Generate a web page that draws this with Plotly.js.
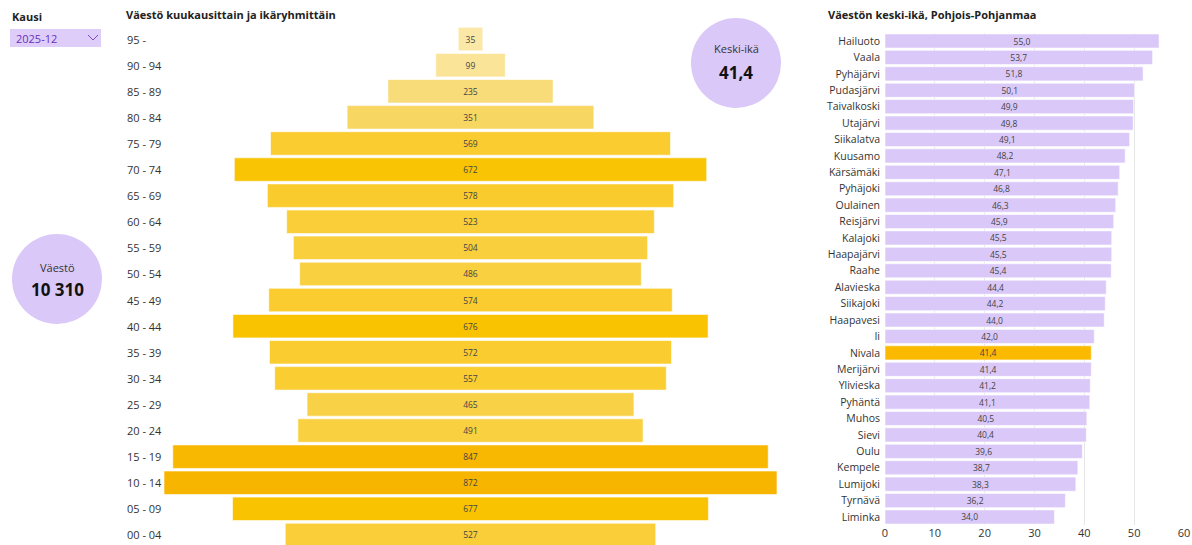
<!DOCTYPE html>
<html>
<head>
<meta charset="utf-8">
<script src="https://cdn.plot.ly/plotly-3.0.1.min.js"></script>
<style>
  html, body { margin: 0; padding: 0; background: #fff; }
  #chart { width: 1192px; height: 545px; }
</style>
</head>
<body>
<div id="chart"></div>
<script>
// ikäryhmät, ylhäältä alas
const ageGroups = ["95 -", "90 - 94", "85 - 89", "80 - 84", "75 - 79", "70 - 74", "65 - 69",
  "60 - 64", "55 - 59", "50 - 54", "45 - 49", "40 - 44", "35 - 39", "30 - 34",
  "25 - 29", "20 - 24", "15 - 19", "10 - 14", "05 - 09", "00 - 04"];
const ageCounts = [35, 99, 235, 351, 569, 672, 578, 523, 504, 486, 574, 676, 572, 557,
  465, 491, 847, 872, 677, 527];

const municipalities = ["Hailuoto", "Vaala", "Pyhäjärvi", "Pudasjärvi", "Taivalkoski", "Utajärvi",
  "Siikalatva", "Kuusamo", "Kärsämäki", "Pyhäjoki", "Oulainen", "Reisjärvi", "Kalajoki",
  "Haapajärvi", "Raahe", "Alavieska", "Siikajoki", "Haapavesi", "Ii", "Nivala", "Merijärvi",
  "Ylivieska", "Pyhäntä", "Muhos", "Sievi", "Oulu", "Kempele", "Lumijoki", "Tyrnävä", "Liminka"];
const meanAges = [55.0, 53.7, 51.8, 50.1, 49.9, 49.8, 49.1, 48.2, 47.1, 46.8, 46.3, 45.9, 45.5,
  45.5, 45.4, 44.4, 44.2, 44.0, 42.0, 41.4, 41.4, 41.2, 41.1, 40.5, 40.4, 39.6, 38.7, 38.3, 36.2, 34.0];

const selected = "Nivala";
const period = "2025-12";
const xTicks = [0, 10, 20, 30, 40, 50, 60];

const W = 1192, H = 545;
const FONT = '"Segoe UI", "Open Sans", sans-serif';
const LAVENDER = "#dac8f8";
const px = (x) => x / W;
const py = (y) => (H - y) / H;

const total = ageCounts.reduce((a, b) => a + b, 0);
const totalText = String(total).replace(/\B(?=(\d{3})+(?!\d))/g, " ");
const meanAge = meanAges[municipalities.indexOf(selected)];

// pyramidi: palkit keskitetty nollan ympärille
const pyramid = {
  type: "bar",
  orientation: "h",
  y: ageGroups,
  x: ageCounts,
  base: ageCounts.map(v => -v / 2),
  width: 0.9,
  text: ageCounts.map(String),
  textposition: "inside",
  insidetextanchor: "middle",
  constraintext: "none",
  textangle: 0,
  textfont: {size: 8.5, color: "#444", family: FONT},
  marker: {
    color: ageCounts,
    cmin: 35, cmax: 872,
    colorscale: [[0, "#fbe8a6"], [0.24, "#f9dc7a"], [0.38, "#f8d662"], [0.545, "#f9d03f"],
      [0.64, "#facc30"], [0.77, "#f9c300"], [1, "#f8b500"]],
    line: {color: "rgba(255,255,255,0.6)", width: 1},
  },
  hoverinfo: "y+text",
  xaxis: "x", yaxis: "y",
};

const ages = {
  type: "bar",
  orientation: "h",
  y: municipalities,
  x: meanAges,
  width: 0.86,
  texttemplate: "%{x:.1f}",
  textposition: "inside",
  insidetextanchor: "middle",
  constraintext: "none",
  textangle: 0,
  textfont: {size: 8.5, color: "#444", family: FONT},
  marker: {
    color: municipalities.map(m => m === selected ? "#fbb900" : LAVENDER),
    line: {color: "rgba(255,255,255,0.6)", width: 1},
  },
  xaxis: "x2", yaxis: "y2",
};

const annotations = ageGroups.map(g => ({
  xref: "paper", yref: "y", x: px(125), y: g, xanchor: "left", yanchor: "middle",
  text: g, showarrow: false, font: {size: 11, color: "#333", family: FONT},
}));

annotations.push(
  {xref: "paper", yref: "paper", x: px(10), y: py(17), xanchor: "left", yanchor: "middle",
    text: "<b>Kausi</b>", showarrow: false, font: {size: 11, color: "#222", family: FONT}},
  {xref: "paper", yref: "paper", x: px(14), y: py(38), xanchor: "left", yanchor: "middle",
    text: period, showarrow: false, font: {size: 11, color: "#6a2fbd", family: FONT}},
  {xref: "paper", yref: "paper", x: px(124), y: py(15), xanchor: "left", yanchor: "middle",
    text: "<b>Väestö kuukausittain ja ikäryhmittäin</b>", showarrow: false,
    font: {size: 11, color: "#222", family: FONT}},
  {xref: "paper", yref: "paper", x: px(826), y: py(15), xanchor: "left", yanchor: "middle",
    text: "<b>Väestön keski-ikä, Pohjois-Pohjanmaa</b>", showarrow: false,
    font: {size: 11, color: "#222", family: FONT}},
  {xref: "paper", yref: "paper", x: px(57), y: py(267), xanchor: "center", yanchor: "middle",
    text: "Väestö", showarrow: false, font: {size: 11, color: "#333", family: FONT}},
  {xref: "paper", yref: "paper", x: px(57), y: py(290), xanchor: "center", yanchor: "middle",
    text: "<b>" + totalText + "</b>", showarrow: false, font: {size: 17, color: "#111", family: FONT}},
  {xref: "paper", yref: "paper", x: px(736), y: py(49), xanchor: "center", yanchor: "middle",
    text: "Keski-ikä", showarrow: false, font: {size: 11, color: "#333", family: FONT}},
  {xref: "paper", yref: "paper", x: px(736), y: py(72), xanchor: "center", yanchor: "middle",
    text: "<b>" + meanAge.toFixed(1).replace(".", ",") + "</b>", showarrow: false,
    font: {size: 17, color: "#111", family: FONT}},
);

const shapes = [
  {type: "rect", xref: "paper", yref: "paper", x0: px(10), x1: px(101), y0: py(29), y1: py(47),
    fillcolor: "#ddcdf8", line: {width: 0}, layer: "below"},
  {type: "path", xref: "paper", yref: "paper",
    path: `M ${px(88)} ${py(35)} L ${px(93)} ${py(40)} L ${px(98)} ${py(35)}`,
    line: {color: "#7a4cc4", width: 1}},
  {type: "circle", xref: "paper", yref: "paper", x0: px(12), x1: px(102), y0: py(234), y1: py(324),
    fillcolor: LAVENDER, line: {width: 0}, layer: "below"},
  {type: "circle", xref: "paper", yref: "paper", x0: px(691), x1: px(781), y0: py(18), y1: py(108),
    fillcolor: LAVENDER, line: {width: 0}, layer: "below"},
];

const layout = {
  width: W, height: H,
  margin: {l: 0, r: 0, t: 0, b: 0},
  paper_bgcolor: "#fff", plot_bgcolor: "rgba(0,0,0,0)",
  separators: ", ",
  showlegend: false,
  font: {family: FONT, size: 11, color: "#333"},
  xaxis: {domain: [px(160), px(781)], range: [-441.7, 441.7], visible: false, fixedrange: true},
  yaxis: {domain: [0, py(26)], range: [-0.385, 19.5], autorange: false, categoryorder: "array",
    categoryarray: ageGroups.slice().reverse(), showticklabels: false, showgrid: false,
    zeroline: false, fixedrange: true},
  xaxis2: {domain: [px(885), px(1184)], range: [0, 60], anchor: "y2", tickvals: xTicks,
    showgrid: true, gridcolor: "#e6e6e6", zeroline: false, showline: false, ticks: "",
    tickfont: {size: 11, color: "#333"}, fixedrange: true},
  yaxis2: {domain: [py(525.2), py(32.8)], anchor: "x2", categoryorder: "array",
    categoryarray: municipalities.slice().reverse(), showgrid: false, zeroline: false,
    ticks: "", ticklabelstandoff: 4, tickfont: {size: 10.5, color: "#333"}, fixedrange: true},
  annotations: annotations,
  shapes: shapes,
};

Plotly.newPlot("chart", [pyramid, ages], layout, {displayModeBar: false, staticPlot: true});
</script>
</body>
</html>
